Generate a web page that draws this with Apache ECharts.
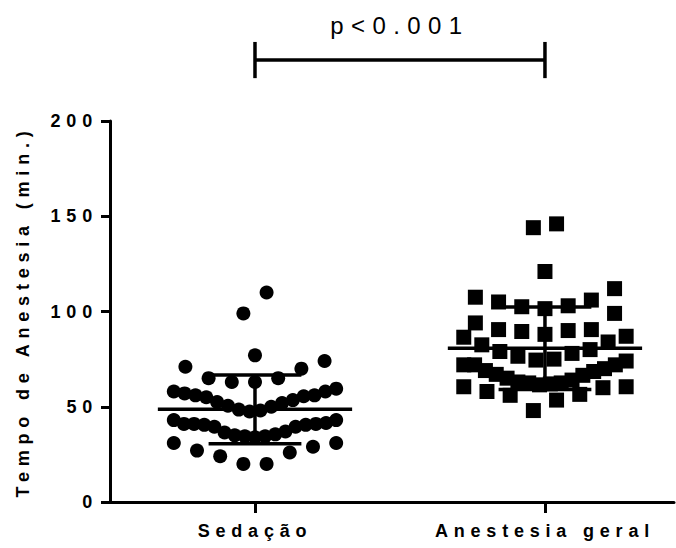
<!DOCTYPE html>
<html>
<head>
<meta charset="utf-8">
<title>Tempo de Anestesia</title>
<script src="https://cdn.jsdelivr.net/npm/echarts@6/dist/echarts.min.js"></script>
<style>
  html, body { margin: 0; padding: 0; background: #fff; }
  #main { width: 676px; height: 548px; }
  /* the figure spaces its letters out, one rule per text size */
  #main text[style*="18px"] { letter-spacing: 5.8px; }
  #main text[style*="24px"] { letter-spacing: 7.4px; }
</style>
</head>
<body>
<div id="main"></div>
<script>
var categories = ['Sedação', 'Anestesia geral'];
var sedacao = [110, 99, 77, 74, 71, 70, 65, 65, 63, 63, 59.5, 58,
  58, 57, 56, 56, 55.5, 55, 53.5, 52.5, 52, 50.5, 50, 48.5, 48, 47.5,
  43, 43, 41.5, 41, 41, 41, 40.5, 40.5, 39.5, 39.5, 37, 36.5, 35.5, 35, 34.5, 34.5, 34,
  31, 31, 29, 27, 26, 24, 20, 20];
var anestesia = [146, 144, 121, 112, 107.5, 106, 105, 103, 102.5, 101.5, 99, 94,
  90.5, 90.5, 90, 89.5, 88, 87, 86.5, 84, 82.5, 80, 79, 78, 76.5, 75, 74.5,
  74, 72, 72, 72, 70, 69, 68.5, 67, 66.5, 65, 64, 63, 62.5, 62.5, 62, 61.5,
  60.5, 60.5, 60, 58, 56.5, 56, 53.5, 48];
var yTicks = [0, 50, 100, 150, 200];
var pValueText = 'p<0.001';

var FONT = "'Liberation Sans', Arial, Helvetica, sans-serif";
var BIN_SPAN = 12.5;   // values closer than this share a row of the swarm
var MAX_GAP = 0.08;    // widest spacing of neighbours in a row (x units)
var ROW_WIDTH = 0.56;  // widest a row may get (x units)
var MEAN_HALF = 0.335;
var CAP_HALF = 0.16;
var SIG_Y = 232, SIG_TICK = 9.5, SIG_LABEL_Y = 250;

// column scatter: sort, group into rows, spread each row from the middle out
function swarm(values, cx){
  var sorted = values.slice().sort(function(a, b){ return a - b });
  var rows = [], row = null;
  sorted.forEach(function(v){
    if (!row || v - row[0] > BIN_SPAN) {
      row = [];
      rows.push(row);
    }
    row.push(v);
  });
  var points = [];
  rows.forEach(function(r){
    var n = r.length;
    var gap = n > 1 ? Math.min(MAX_GAP, ROW_WIDTH / (n - 1)) : 0;
    var mid = (n - 1) / 2;
    var slots = [];
    for (var i = 0; i < n; i++) slots.push(i);
    slots.sort(function(a, b){ return Math.abs(a - mid) - Math.abs(b - mid) || a - b });
    r.forEach(function(v, k){
      points.push([cx + (slots[k] - mid) * gap, v]);
    });
  });
  return points;
}

function meanSd(values){
  var m = values.reduce(function(s, v){ return s + v }, 0) / values.length;
  var ss = values.reduce(function(s, v){ return s + (v - m) * (v - m) }, 0);
  return [m, Math.sqrt(ss / (values.length - 1))];
}

var statsData = [sedacao, anestesia].map(function(vals, i){
  var st = meanSd(vals);
  return [i + 1, st[0], st[1]];
});

var lineStyle = {stroke: '#000', lineWidth: 3.5};

function renderStats(params, api){
  var cx = api.value(0), m = api.value(1), sd = api.value(2);
  function seg(x1, y1, x2, y2){
    var a = api.coord([x1, y1]), b = api.coord([x2, y2]);
    return {type: 'line', shape: {x1: a[0], y1: a[1], x2: b[0], y2: b[1]}, style: lineStyle};
  }
  return {
    type: 'group',
    children: [
      seg(cx - MEAN_HALF, m, cx + MEAN_HALF, m),
      seg(cx, m - sd, cx, m + sd),
      seg(cx - CAP_HALF, m + sd, cx + CAP_HALF, m + sd),
      seg(cx - CAP_HALF, m - sd, cx + CAP_HALF, m - sd)
    ]
  };
}

function renderSig(params, api){
  var x1 = api.value(0), x2 = api.value(1), y = api.value(2);
  function seg(ax, ay, bx, by){
    var a = api.coord([ax, ay]), b = api.coord([bx, by]);
    return {type: 'line', shape: {x1: a[0], y1: a[1], x2: b[0], y2: b[1]}, style: lineStyle};
  }
  var lp = api.coord([(x1 + x2) / 2, SIG_LABEL_Y]);
  return {
    type: 'group',
    children: [
      seg(x1, y, x2, y),
      seg(x1, y - SIG_TICK, x1, y + SIG_TICK),
      seg(x2, y - SIG_TICK, x2, y + SIG_TICK),
      {
        type: 'text', x: lp[0], y: lp[1],
        style: {
          text: pValueText, fill: '#000', fontSize: 24, fontFamily: FONT,
          align: 'center', verticalAlign: 'middle'
        }
      }
    ]
  };
}

var chart = echarts.init(document.getElementById('main'), null, {renderer: 'svg'});

var option = {
  animation: false,
  backgroundColor: '#fff',
  grid: {left: 110, right: 2, top: 121, bottom: 46},
  xAxis: {
    type: 'value',
    min: 0.5,
    max: 2.445,
    splitLine: {show: false},
    axisLine: {show: true, lineStyle: {color: '#000', width: 3}},
    axisTick: {show: true, customValues: [1, 2], length: 11, lineStyle: {color: '#000', width: 3}},
    axisLabel: {
      customValues: [1, 2],
      margin: 20,
      color: '#000',
      fontSize: 18,
      fontWeight: 'bold',
      fontFamily: FONT,
      formatter: function(v){ return categories[Math.round(v) - 1] }
    }
  },
  yAxis: {
    type: 'value',
    min: yTicks[0],
    max: yTicks[yTicks.length - 1],
    interval: 50,
    name: 'Tempo de Anestesia (min.)',
    nameLocation: 'middle',
    nameGap: 78,
    nameTextStyle: {color: '#000', fontSize: 18, fontWeight: 'bold', fontFamily: FONT},
    splitLine: {show: false},
    axisLine: {show: true, lineStyle: {color: '#000', width: 3}},
    axisTick: {show: true, length: 9, lineStyle: {color: '#000', width: 3}},
    axisLabel: {margin: 12, color: '#000', fontSize: 18, fontWeight: 'bold', fontFamily: FONT}
  },
  series: [
    {
      name: categories[0],
      type: 'scatter',
      symbol: 'circle',
      symbolSize: 14,
      itemStyle: {color: '#000', opacity: 1},
      data: swarm(sedacao, 1)
    },
    {
      name: categories[1],
      type: 'scatter',
      symbol: 'rect',
      symbolSize: 15,
      itemStyle: {color: '#000', opacity: 1},
      data: swarm(anestesia, 2)
    },
    {
      type: 'custom',
      clip: false,
      renderItem: renderStats,
      encode: {x: 0, y: 1},
      data: statsData,
      z: 5
    },
    {
      type: 'custom',
      clip: false,
      renderItem: renderSig,
      encode: {x: 0, y: 2},
      data: [[1, 2, SIG_Y]],
      z: 5
    }
  ]
};

chart.setOption(option);
</script>
</body>
</html>
